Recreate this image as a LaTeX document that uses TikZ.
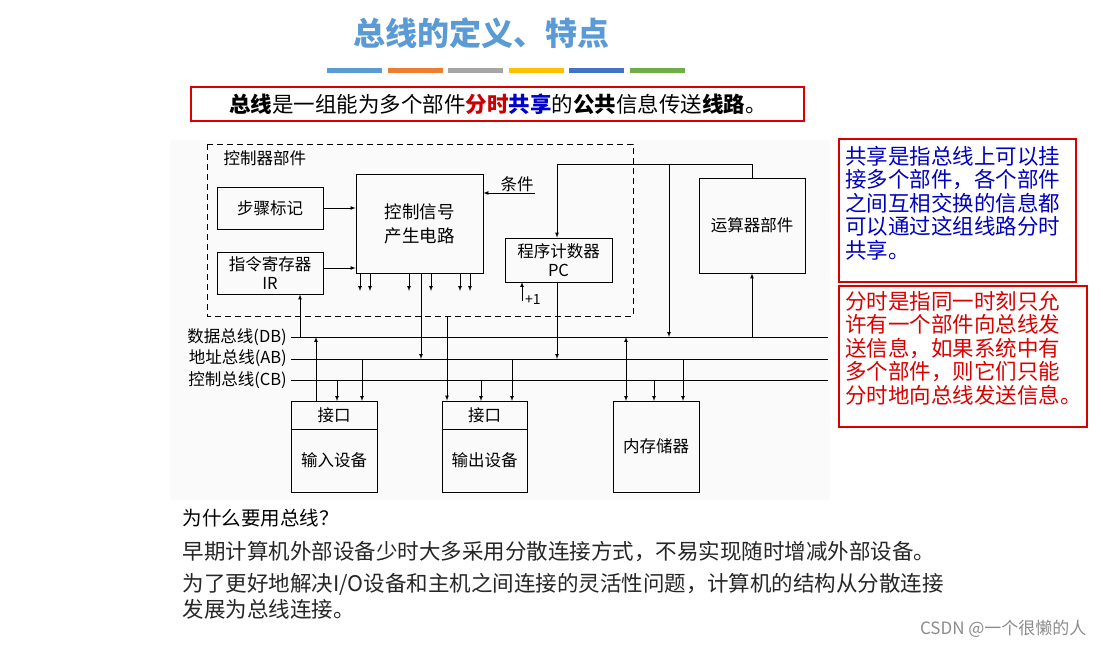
\documentclass[tikz,border=0pt]{standalone}
\usepackage{fontspec}
\setmainfont{Noto Sans CJK SC}
\newfontfamily\cjk{Noto Sans CJK SC}
\begin{document}
\begin{tikzpicture}[x=1pt,y=-1pt,
  box/.style={draw,line width=0.8pt,inner sep=0pt},
  ar/.style={-latex,line width=0.7pt},
  ln/.style={line width=0.7pt},
  bus/.style={line width=1pt},
  dt/.style={font=\fontsize{16.5}{18}\selectfont},
  rt/.style={font=\fontsize{21.5}{23.5}\selectfont,align=left,anchor=north west,inner sep=0pt},
]
\useasboundingbox (0,0) rectangle (1103,647);
\fill[white] (0,0) rectangle (1103,647);
\fill[gray!4] (170,140) rectangle (830,500);
% title
\node[font=\fontsize{32}{34}\bfseries\selectfont,text={rgb,255:red,91;green,155;blue,213}] (title) at (481,33) {总线的定义、特点};
\foreach \c [count=\i from 0] in {{rgb,255:red,91;green,155;blue,213},{rgb,255:red,237;green,125;blue,49},{rgb,255:red,165;green,165;blue,165},{rgb,255:red,255;green,192;blue,0},{rgb,255:red,68;green,114;blue,196},{rgb,255:red,112;green,173;blue,71}}
  \fill[color=\c] (327+\i*60.5,68) rectangle ++(55,5);
\draw[red!85!black,line width=1.5pt] (191,87) rectangle (804,121);
\node[font=\fontsize{21.5}{22}\selectfont] (def) at (498,104) {\textbf{总线}是一组能为多个部件\textbf{\color{red!80!black}分时}\textbf{\color{blue!80!black}共享}的\textbf{公共}信息传送\textbf{线路}。};
% right boxes
\draw[red!85!black,line width=1.5pt] (839,139) rectangle (1076,282);
\node[rt,text=blue!75!black] (share) at (845,146) {共享是指总线上可以挂\\接多个部件，各个部件\\之间互相交换的信息都\\可以通过这组线路分时\\共享。};
\draw[red!85!black,line width=1.5pt] (839,286) rectangle (1087,427);
\node[rt,text=red!85!black] (time) at (845,291) {分时是指同一时刻只允\\许有一个部件向总线发\\送信息，如果系统中有\\多个部件，则它们只能\\分时地向总线发送信息。};
% bottom text
\node[anchor=west,font=\fontsize{19.5}{21}\selectfont] (q) at (179,518) {为什么要用总线？};
\node[anchor=west,font=\fontsize{21.5}{23}\selectfont,text=black!85] (l1) at (179,552) {早期计算机外部设备少时大多采用分散连接方式，不易实现随时增减外部设备。};
\node[anchor=west,font=\fontsize{21.5}{23}\selectfont,text=black!85] (l2) at (179,584) {为了更好地解决I/O设备和主机之间连接的灵活性问题，计算机的结构从分散连接};
\node[anchor=west,font=\fontsize{21.5}{23}\selectfont,text=black!85] (l3) at (179,609) {发展为总线连接。};
\node[anchor=east,font=\fontsize{17}{19}\selectfont,text=black!45] (wm) at (1090,629) {CSDN @一个很懒的人};
% diagram
\draw[dashed,line width=0.8pt,dash pattern=on 6pt off 4pt] (207,144) rectangle (633,316);
\node[dt,anchor=west] (ctl) at (220,158) {控制器部件};
\node[box,minimum width=106,minimum height=42,dt] (step) at (270,208) {步骤标记};
\node[box,minimum width=106,minimum height=42,dt,align=center,font=\fontsize{16.5}{19}\selectfont] (ir) at (270,273) {指令寄存器\\IR};
\node[box,minimum width=127,minimum height=99,dt,align=center,font=\fontsize{17.5}{24}\selectfont] (cu) at (419.5,223.5) {控制信号\\产生电路};
\node[box,minimum width=107,minimum height=44,dt,align=center,font=\fontsize{16.5}{19}\selectfont] (pc) at (558.5,260) {程序计数器\\PC};
\node[box,minimum width=106,minimum height=95,dt] (alu) at (752,225.5) {运算器部件};
\node[box,minimum width=86,minimum height=91] (inb) at (334,446.5) {};
\node[box,minimum width=85,minimum height=91] (outb) at (484.5,446.5) {};
\node[box,minimum width=86,minimum height=91,dt] (mem) at (656,446.5) {内存储器};
\draw[line width=0.8pt] (inb.west|-0,429) -- (inb.east|-0,429) (outb.west|-0,429) -- (outb.east|-0,429);
\node[dt] (inif) at (334,415) {接口};
\node[dt] (indev) at (334,460) {输入设备};
\node[dt] (outif) at (484.5,415) {接口};
\node[dt] (outdev) at (484.5,460) {输出设备};
% buses
\coordinate (dbL) at (291,337); \coordinate (dbR) at (828,337);
\coordinate (abL) at (291,359); \coordinate (abR) at (828,359);
\coordinate (cbL) at (291,380); \coordinate (cbR) at (828,380);
\draw[bus] (dbL) -- (dbR); \draw[bus] (abL) -- (abR); \draw[bus] (cbL) -- (cbR);
\node[dt,anchor=east,inner sep=1pt] (dbl) at (288,337) {数据总线(DB)};
\node[dt,anchor=east,inner sep=1pt] (abl) at (288,358) {地址总线(AB)};
\node[dt,anchor=east,inner sep=1pt] (cbl) at (288,380) {控制总线(CB)};
% control connections
\draw[ar] (step.east) -- (cu.west|-step.east);
\draw[ar] (ir.east|-0,268) -- (cu.west|-0,268);
\node[dt,anchor=south,inner sep=1pt] (cond) at (517,193) {条件};
\coordinate (condS) at (535,193);
\draw[ar] (condS) -- (cu.east|-condS);
\foreach \xx in {360,370,409,431,460,470} \draw[ar] (\xx,273) -- (\xx,291);
\draw[ar] (421,273) -- (421,359);
\draw[ar] (447,316) -- (outb.north-|447,0);
\draw[ar] (300,337) -- (ir.south-|300,0);
% PC
\draw[ar] (557,282) -- (557,359);
\draw[ln] (557,164) -- (752,164) -- (alu.north);
\draw[ar] (557,164) -- (pc.north-|557,0);
\draw[ar] (669,164) -- (669,337);
\draw[ar] (752,337) -- (alu.south);
\draw[ar] (522,301) -- (522,282);
\node[font=\fontsize{14}{16}\selectfont,anchor=west,inner sep=1pt] (p1) at (524,300) {+1};
% devices
\draw[ar] (316,401) -- (316,337);
\draw[ar] (337,380) -- (337,401);
\draw[ar] (362,359) -- (362,401);
\draw[ar] (481,380) -- (481,401);
\draw[ar] (512,359) -- (512,401);
\draw[latex-latex,line width=0.7pt] (626,337) -- (626,401);
\draw[ar] (654,380) -- (654,401);
\draw[ar] (683,359) -- (683,401);
\end{tikzpicture}
\end{document}
